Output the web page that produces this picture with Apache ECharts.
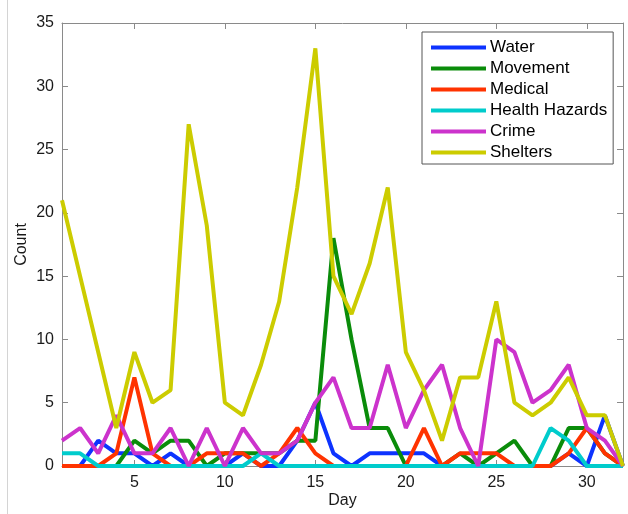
<!DOCTYPE html>
<html>
<head>
<meta charset="utf-8">
<script src="https://cdn.jsdelivr.net/npm/echarts@6/dist/echarts.min.js"></script>
<style>
html,body{margin:0;padding:0;background:#fff;}
#c{width:628px;height:514px;}
</style>
</head>
<body>
<div id="c"></div>
<script>
const days = [1,2,3,4,5,6,7,8,9,10,11,12,13,14,15,16,17,18,19,20,21,22,23,24,25,26,27,28,29,30,31,32];
const water =    [0,0,2,1,1,0,1,0,0,0, 1,0,0,2,5,1,0,1,1,1, 1,0,0,0,0,0,0,0,1,0, 4,0];
const movement = [0,0,0,0,2,1,2,2,0,1, 1,1,1,2,2,18,10,3,3,0, 0,0,1,0,1,2,0,0,3,3, 1,0];
const medical =  [0,0,0,1,7,1,0,0,1,1, 1,0,1,3,1,0,0,0,0,0, 3,0,1,1,1,0,0,0,1,3, 1,0];
const health =   [1,1,0,0,0,0,0,0,0,0, 0,1,0,0,0,0,0,0,0,0, 0,0,0,0,0,0,0,3,2,0, 0,0];
const crime =    [2,3,1,4,1,1,3,0,3,0, 3,1,1,2,5,7,3,3,8,3, 6,8,3,0,10,9,5,6,8,3, 2,0];
const shelters = [21,15,9,3,9,5,6,27,19,5, 4,8,13,22,33,15,12,16,22,9, 6,2,7,7,13,5,4,5,7,4, 4,0];
const seriesNames = ['Water','Movement','Medical','Health Hazards','Crime','Shelters'];
const xTicks = [5,10,15,20,25,30];

const colors = ['#0d33ff','#0a8c0a','#ff3300','#00cccc','#cc33cc','#cccc00'];
const allData = [water, movement, medical, health, crime, shelters];
const FONT = "'Liberation Sans', Arial, sans-serif";
const frame = '#8a8a8a';

const chart = echarts.init(document.getElementById('c'), null, {renderer:'canvas'});
const axisCommon = {
  axisLine:{show:true, onZero:false, lineStyle:{color:frame, width:1}},
  axisTick:{show:true, inside:true, length:6, lineStyle:{color:frame}},
  splitLine:{show:false}
};
chart.setOption({
  animation:false,
  color: colors,
  textStyle:{fontFamily:FONT},
  grid:{left:62, right:5, top:23, bottom:48, containLabel:false},
  graphic:[{type:'line', shape:{x1:7.5,y1:0,x2:7.5,y2:514}, style:{stroke:'#d4d4d4', lineWidth:1}, silent:true}],
  legend:{
    orient:'vertical', left:422, top:32,
    width:190,
    padding:[7,6,3,9],
    itemWidth:55, itemHeight:4, itemGap:4,
    icon:'rect',
    backgroundColor:'#fff',
    borderColor:'#555', borderWidth:1,
    textStyle:{fontFamily:FONT, fontSize:17, color:'#000', lineHeight:16, padding:[0,0,0,-1]},
    data: seriesNames
  },
  xAxis:[
    Object.assign({}, axisCommon, {
      type:'value', min:1, max:32, position:'bottom',
      axisTick:{show:true, inside:true, length:6, lineStyle:{color:frame}, customValues:xTicks},
      axisLabel:{show:true, customValues:xTicks, fontFamily:FONT, fontSize:16, color:'#1a1a1a', margin:9},
      name:'Day', nameLocation:'middle', nameGap:27, nameMoveOverlap:false,
      nameTextStyle:{fontFamily:FONT, fontSize:16, color:'#1a1a1a'}
    }),
    Object.assign({}, axisCommon, {
      type:'value', min:1, max:32, position:'top',
      axisTick:{show:true, inside:true, length:6, lineStyle:{color:frame}, customValues:xTicks},
      axisLabel:{show:false}
    })
  ],
  yAxis:[
    Object.assign({}, axisCommon, {
      type:'value', min:0, max:35, interval:5, position:'left',
      axisLabel:{show:true, fontFamily:FONT, fontSize:16, color:'#1a1a1a', margin:8},
      name:'Count', nameLocation:'middle', nameGap:32, nameRotate:90, nameMoveOverlap:false,
      nameTextStyle:{fontFamily:FONT, fontSize:16, color:'#1a1a1a'}
    }),
    Object.assign({}, axisCommon, {
      type:'value', min:0, max:35, interval:5, position:'right',
      axisLabel:{show:false}
    })
  ],
  series: seriesNames.map((n,i)=>({
    name:n, type:'line', xAxisIndex:0, yAxisIndex:0,
    showSymbol:false, symbol:'none',
    lineStyle:{width:4, color:colors[i], join:'bevel', cap:'butt'},
    itemStyle:{color:colors[i]},
    data: days.map((d,k)=>[d, allData[i][k]]),
    z: 2+i
  }))
});
</script>
</body>
</html>
